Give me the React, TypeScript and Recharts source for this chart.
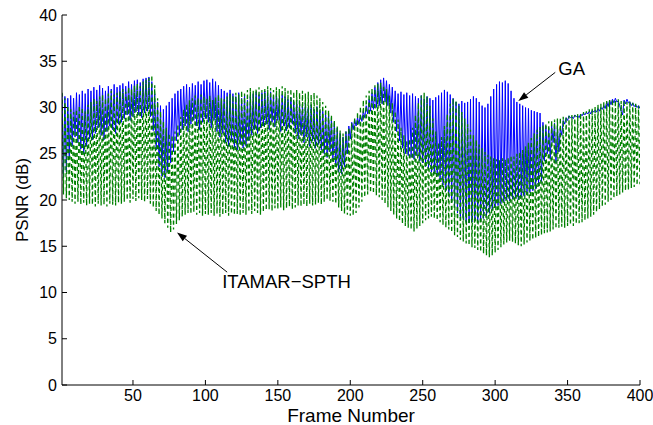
import { LineChart, Line, XAxis, YAxis, ReferenceLine } from 'recharts'

// PSNR per frame (odd frames sit high, even frames low)
const gaPsnr = [
  31.5, 22.4, 31.2, 23.0, 31.0, 24.5, 31.3, 25.8, 31.0, 26.8, 31.6, 26.2, 31.4, 25.5, 31.8, 25.0, 31.5, 25.8, 32.0, 26.6,
  31.8, 26.5, 32.2, 27.2, 31.9, 27.8, 32.4, 27.0, 32.1, 26.5, 31.8, 27.4, 32.3, 28.0, 32.0, 27.6, 32.5, 27.2, 32.2, 28.2,
  32.4, 28.4, 32.6, 28.8, 32.3, 29.2, 32.8, 28.6, 32.5, 29.0, 32.9, 29.5, 33.0, 29.2, 32.7, 28.9, 33.1, 29.4, 33.2, 29.6,
  33.3, 29.0, 32.8, 27.5, 31.5, 25.4, 30.6, 23.6, 30.2, 22.6, 29.8, 22.4, 30.2, 23.0, 30.6, 24.0, 31.0, 25.2, 31.5, 26.4,
  31.8, 27.0, 32.0, 27.6, 32.3, 28.0, 32.5, 27.4, 32.2, 28.2, 32.6, 28.6, 32.4, 28.0, 32.8, 27.6, 32.5, 28.4, 32.9, 28.8,
  33.0, 28.4, 32.7, 27.8, 33.1, 28.6, 32.8, 27.4, 32.4, 26.8, 32.0, 27.2, 31.8, 26.2, 31.6, 25.8, 31.9, 26.4, 31.5, 25.6,
  31.2, 25.4, 31.6, 26.0, 31.0, 25.6, 31.4, 25.8, 30.8, 26.4, 31.2, 27.0, 31.5, 27.6, 31.7, 27.2, 31.4, 27.8, 31.6, 28.0,
  31.8, 28.2, 31.5, 27.6, 31.7, 28.4, 31.3, 27.9, 31.6, 28.6, 31.0, 27.4, 31.4, 28.0, 31.2, 27.5, 30.9, 27.8, 31.1, 28.2,
  30.6, 27.2, 30.8, 26.6, 30.4, 27.0, 30.2, 26.2, 30.5, 26.8, 30.0, 25.8, 30.3, 26.4, 29.8, 25.6, 30.1, 26.0, 29.7, 25.4,
  29.6, 25.0, 29.2, 24.6, 29.4, 25.2, 28.9, 24.2, 28.4, 23.6, 27.8, 23.0, 27.2, 22.8, 26.8, 23.6, 27.4, 25.0, 28.0, 26.6,
  28.4, 27.6, 28.7, 28.0, 28.9, 28.2, 29.2, 28.5, 29.6, 28.9, 30.2, 29.3, 30.9, 29.6, 31.6, 29.8, 32.2, 30.0, 32.7, 30.2,
  33.0, 30.4, 33.2, 30.6, 32.9, 30.2, 32.5, 29.4, 32.2, 28.4, 31.8, 27.4, 31.5, 26.4, 31.7, 25.6, 31.4, 25.0, 31.6, 24.8,
  31.3, 24.6, 31.5, 24.4, 31.2, 24.8, 31.0, 24.2, 31.3, 24.0, 30.9, 23.6, 31.2, 23.4, 31.0, 23.0, 30.8, 22.8, 31.1, 22.6,
  31.3, 22.2, 31.6, 21.6, 31.9, 21.0, 31.7, 20.4, 31.4, 19.8, 31.0, 19.2, 30.6, 18.6, 30.4, 18.2, 30.7, 17.9, 30.5, 17.6,
  30.6, 17.5, 30.9, 17.6, 31.2, 17.8, 31.0, 17.5, 30.6, 17.7, 30.2, 18.0, 30.0, 18.3, 30.4, 18.6, 31.2, 18.9, 32.0, 19.2,
  32.5, 19.4, 32.8, 19.6, 32.7, 19.8, 32.9, 20.0, 32.6, 19.9, 31.8, 20.1, 31.0, 20.2, 30.6, 20.0, 30.4, 20.3, 30.2, 20.4,
  30.0, 20.6, 29.9, 20.8, 29.7, 21.0, 29.6, 21.2, 29.5, 21.5, 29.4, 22.0, 28.4, 24.2, 28.0, 25.0, 27.8, 24.4, 28.1, 26.2,
  28.3, 24.0, 28.0, 25.2, 27.8, 27.0, 28.6, 28.2, 28.9, 28.6, 29.1, 28.9, 29.0, 28.8, 29.2, 29.0, 29.1, 28.9, 29.3, 29.1,
  29.4, 29.2, 29.5, 29.3, 29.6, 29.3, 29.7, 29.5, 29.7, 29.5, 29.9, 29.6, 30.0, 29.8, 30.2, 29.9, 30.6, 30.1, 30.8, 30.3,
  30.9, 30.5, 31.0, 30.6, 30.7, 30.2, 29.6, 29.2, 30.8, 30.4, 30.9, 30.5, 30.6, 30.2, 30.5, 30.1, 30.3, 30.0, 30.2, 29.9,
]

const itamarPsnr = [
  31.6, 20.6, 31.0, 20.2, 30.2, 20.0, 29.8, 19.8, 29.5, 19.6, 29.8, 19.8, 30.2, 19.5, 30.0, 19.7, 29.6, 19.4, 30.3, 19.6,
  30.6, 19.5, 31.0, 19.3, 30.7, 19.6, 31.2, 19.4, 31.4, 19.5, 31.0, 19.3, 31.5, 19.6, 31.8, 19.5, 31.4, 19.4, 31.6, 19.7,
  31.8, 19.6, 32.0, 19.8, 31.7, 20.0, 32.2, 19.7, 32.0, 20.1, 32.4, 19.9, 32.6, 20.2, 32.3, 20.0, 32.8, 19.8, 33.0, 20.1,
  33.2, 19.6, 33.5, 19.2, 32.4, 18.8, 31.0, 18.4, 29.6, 18.0, 28.5, 17.5, 27.8, 17.0, 27.2, 16.5, 27.0, 16.8, 27.4, 17.4,
  28.2, 17.8, 29.0, 18.2, 29.8, 18.4, 30.4, 18.6, 30.8, 18.5, 31.0, 18.7, 31.3, 18.4, 31.0, 18.6, 31.4, 18.3, 31.2, 18.5,
  31.0, 18.4, 31.3, 18.6, 30.8, 18.3, 31.1, 18.5, 31.4, 18.2, 31.0, 18.4, 30.9, 18.6, 31.2, 18.3, 31.5, 18.5, 31.3, 18.4,
  31.6, 18.5, 31.4, 18.3, 31.8, 18.6, 31.5, 18.4, 31.9, 18.7, 32.1, 18.5, 31.8, 18.8, 32.0, 18.6, 32.2, 18.4, 31.9, 18.7,
  32.0, 18.9, 32.3, 19.0, 32.1, 18.8, 31.9, 19.1, 32.2, 19.0, 32.0, 19.2, 32.3, 18.9, 32.1, 19.1, 31.8, 19.3, 32.0, 19.0,
  31.7, 19.2, 31.9, 19.4, 31.6, 19.3, 31.8, 19.5, 31.5, 19.3, 31.7, 19.6, 31.4, 19.4, 31.6, 19.5, 31.3, 19.7, 31.0, 19.5,
  30.6, 19.8, 30.2, 20.0, 29.7, 19.9, 29.2, 19.8, 28.6, 19.6, 28.0, 19.2, 27.5, 18.8, 27.2, 18.5, 27.4, 18.4, 27.8, 18.3,
  28.3, 18.3, 28.9, 18.6, 29.5, 19.2, 30.1, 19.8, 30.8, 20.3, 31.3, 20.6, 31.8, 20.8, 32.1, 20.7, 32.4, 20.5, 32.6, 20.3,
  32.7, 20.0, 32.4, 19.6, 32.0, 19.2, 31.3, 18.8, 30.5, 18.4, 29.6, 18.0, 28.7, 17.7, 27.8, 17.4, 27.0, 17.2, 26.4, 17.0,
  26.6, 16.8, 27.8, 16.6, 29.2, 16.9, 30.5, 17.2, 31.3, 17.5, 31.6, 17.8, 31.2, 18.0, 30.2, 18.2, 28.8, 18.0, 27.4, 17.8,
  26.2, 17.6, 26.8, 17.3, 28.0, 17.0, 29.3, 16.8, 30.4, 16.5, 31.0, 16.2, 30.8, 16.0, 30.2, 15.7, 29.5, 15.5, 28.8, 15.3,
  28.2, 15.1, 27.6, 14.9, 27.0, 14.8, 26.5, 14.6, 26.0, 14.4, 25.6, 14.2, 25.2, 14.0, 24.9, 13.8, 24.7, 14.0, 24.5, 14.3,
  24.4, 14.6, 24.3, 14.9, 24.5, 15.2, 24.4, 15.4, 24.6, 15.6, 24.8, 15.5, 24.7, 15.3, 25.0, 15.1, 25.2, 15.0, 25.4, 15.2,
  25.8, 15.4, 26.2, 15.6, 26.7, 15.7, 27.2, 15.9, 27.6, 16.0, 27.9, 16.2, 28.1, 16.4, 28.3, 16.5, 28.5, 16.6, 28.6, 16.8,
  28.7, 16.9, 28.8, 17.0, 28.9, 17.1, 29.0, 17.0, 29.0, 17.2, 29.1, 17.3, 29.2, 17.2, 29.2, 17.4, 29.3, 17.5, 29.4, 17.6,
  29.5, 17.8, 29.6, 18.0, 29.8, 18.2, 29.9, 18.4, 30.1, 18.7, 30.3, 19.0, 30.4, 19.3, 30.6, 19.5, 30.7, 19.8, 30.8, 20.0,
  30.9, 20.2, 30.8, 20.4, 30.9, 20.6, 30.7, 20.8, 30.8, 21.0, 30.6, 21.1, 30.7, 21.3, 30.5, 21.4, 30.4, 21.6, 30.2, 21.7,
]

const xTicks = [50, 100, 150, 200, 250, 300, 350, 400]
const yTicks = [0, 5, 10, 15, 20, 25, 30, 35, 40]

// arrow annotations: [tail, tip] in (frame, dB)
const gaArrow = [{ x: 341.5, y: 33.8 }, { x: 316, y: 30.7 }]
const itamarArrow = [{ x: 115, y: 12.2 }, { x: 80.4, y: 16.5 }]

const chartData = gaPsnr.map((ga, i) => ({ frame: i + 1, ga, itamar: itamarPsnr[i] }))

const FONT = '"Liberation Sans", Arial, Helvetica, sans-serif'

const arrowShape = (text: string, dx: number, dy: number) => (p: any) => {
  const { x1, y1, x2, y2 } = p
  const a = Math.atan2(y2 - y1, x2 - x1)
  const len = 10
  const half = 3.5
  const bx = x2 - len * Math.cos(a)
  const by = y2 - len * Math.sin(a)
  const pts = `${x2},${y2} ${bx - half * Math.sin(a)},${by + half * Math.cos(a)} ${bx + half * Math.sin(a)},${by - half * Math.cos(a)}`
  return (
    <g>
      <line x1={x1} y1={y1} x2={bx} y2={by} stroke="#000" strokeWidth={1} />
      <polygon points={pts} fill="#000" />
      <text x={x1 + dx} y={y1 + dy} fontSize={18.5} fontFamily={FONT} fill="#000">{text}</text>
    </g>
  )
}

const yLabel = (p: any) => {
  const vb = p.viewBox || {}
  const cx = 22
  const cy = (vb.y ?? 15) + (vb.height ?? 370) / 2
  return (
    <text x={cx} y={cy} transform={`rotate(-90 ${cx} ${cy})`} textAnchor="middle" dominantBaseline="central"
      fontSize={17} fontFamily={FONT} fill="#000">PSNR (dB)</text>
  )
}

export default function App() {
  const tickStyle = { fontSize: 16, fill: '#000', fontFamily: FONT }
  return (
    <div style={{ position: 'fixed', left: 0, top: 0, width: 653, height: 425, background: '#fff' }}>
      <LineChart width={653} height={425} data={chartData} margin={{ top: 15, right: 13, left: 0, bottom: 0 }}>
        <XAxis dataKey="frame" type="number" domain={[1, 400]} ticks={xTicks} allowDataOverflow
          height={40} tickSize={-5} tickMargin={10} tick={tickStyle}
          axisLine={{ stroke: '#000' }} tickLine={{ stroke: '#000' }}
          label={{ value: 'Frame Number', position: 'insideBottom', offset: 3, fontSize: 19, fill: '#000', fontFamily: FONT }} />
        <XAxis xAxisId="top" dataKey="frame" type="number" domain={[1, 400]} ticks={xTicks} allowDataOverflow
          orientation="top" height={0} mirror tick={false} tickSize={5}
          axisLine={{ stroke: '#000' }} tickLine={{ stroke: '#000' }} />
        <YAxis type="number" domain={[0, 40]} ticks={yTicks} allowDataOverflow width={62}
          tickSize={-5} tickMargin={10} tick={tickStyle}
          axisLine={{ stroke: '#000' }} tickLine={{ stroke: '#000' }}
          label={{ content: yLabel }} />
        <YAxis yAxisId="right" type="number" domain={[0, 40]} ticks={yTicks} allowDataOverflow
          orientation="right" width={0} mirror tick={false} tickSize={5}
          axisLine={{ stroke: '#000' }} tickLine={{ stroke: '#000' }} />
        <Line type="linear" dataKey="ga" stroke="#0000ff" strokeWidth={1} dot={false} isAnimationActive={false} />
        <Line type="linear" dataKey="itamar" stroke="#008000" strokeWidth={1.3} strokeDasharray="4 3"
          dot={false} isAnimationActive={false} />
        <ReferenceLine segment={gaArrow} ifOverflow="visible" shape={arrowShape('GA', 3, 3)} />
        <ReferenceLine segment={itamarArrow} ifOverflow="visible" shape={arrowShape('ITAMAR\u2212SPTH', -5, 16)} />
      </LineChart>
    </div>
  )
}
